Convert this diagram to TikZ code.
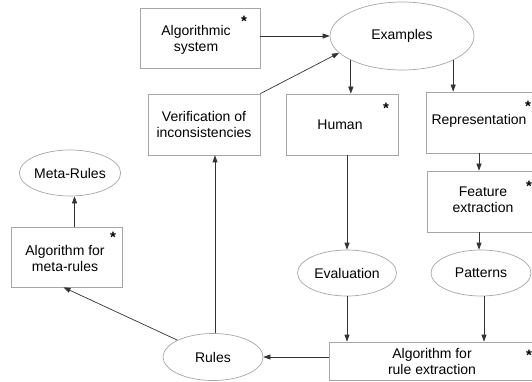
\documentclass[tikz,border=0pt]{standalone}
\usepackage{fontspec}
\setmainfont{Liberation Sans}
\usetikzlibrary{shapes.geometric,arrows.meta,calc}
\begin{document}
\begin{tikzpicture}[x=1pt,y=-1pt,
  every node/.style={font=\fontsize{14}{16}\selectfont},
  box/.style={draw=black!35, line width=0.7pt, rectangle, inner sep=0pt},
  oval/.style={draw=black!35, line width=0.7pt, ellipse, inner sep=0pt, minimum width=100pt, minimum height=46pt},
  txt/.style={align=center, inner sep=0pt},
  starmark/.style={inner sep=0pt, anchor=north, font=\fontsize{15}{16}\selectfont\bfseries},
  arr/.style={draw=black!80, line width=0.7pt, -{Triangle[length=7pt,width=5pt]}}
]
\useasboundingbox (0,0) rectangle (532,382);
\clip (0,0) rectangle (532,382);
% boxes
\node[box, minimum width=120pt, minimum height=60pt] (alg) at (200,38) {};
\node[txt] (algt) at (196,40) {Algorithmic\\system};
\node[oval, minimum width=144pt, minimum height=68pt] (ex) at (402,36) {Examples};
\node[box, minimum width=112pt, minimum height=61pt, align=center] (ver) at (204,124.5) {Verification of\\inconsistencies};
\node[box, minimum width=112pt, minimum height=61pt] (hum) at (342,124.5) {};
\node[txt] (humt) at (340,125) {Human};
\node[box, minimum width=119pt, minimum height=61pt] (rep) at (485.5,122.5) {};
\node[txt] (rept) at (479,121) {Representation};
\node[box, minimum width=118pt, minimum height=61pt] (feat) at (486,201.5) {};
\node[txt] (featt) at (483,200) {Feature\\extraction};
\node[oval] (pat) at (481,273) {Patterns};
\node[oval, minimum width=99pt] (ev) at (347,273) {Evaluation};
\node[box, minimum width=216pt, minimum height=38pt] (algo) at (437,361) {};
\node[txt] (algot) at (432,361) {Algorithm for\\rule extraction};
\node[oval, minimum height=47pt] (rules) at (213,357) {Rules};
\node[box, minimum width=111pt, minimum height=60pt] (ma) at (66.5,257) {};
\node[txt] (mat) at (65,258) {Algorithm for\\meta-rules};
\node[oval, minimum width=99pt] (meta) at (70,173) {Meta-Rules};
% stars
\node[starmark] (s1) at (244,16) {*};
\node[starmark] (s2) at (386,103) {*};
\node[starmark] (s3) at (528,101) {*};
\node[starmark] (s4) at (529,181) {*};
\node[starmark] (s5) at (529,350) {*};
\node[starmark] (s6) at (113,232) {*};
% connectors
\draw[arr] (alg.east |- ex.west) -- (ex.west);
\draw[arr] (ver.north east) -- (ex.195);
\draw[arr] (ex.south west) -- (ex.south west |- hum.north);
\draw[arr] (ex.south east) -- (ex.south east |- rep.north);
\draw[arr] (ev |- hum.south) -- (ev.north);
\draw[arr] (rept |- rep.south) -- (rept |- feat.north);
\draw[arr] (rept |- feat.south) -- (rept |- pat.north);
\draw[arr] ($(pat.south)+(3,0)$) -- ($(pat.south |- algo.north)+(3,0)$);
\draw[arr] (ev.south) -- (ev.south |- algo.north);
\draw[arr] (algo.west |- rules.east) -- (rules.east);
\draw[arr] ($(rules.north)+(2,0)$) -- ($(rules.north |- ver.south)+(2,0)$);
\draw[arr] (rules.north west) -- ($(ma.south)+(-3,0)$);
\draw[arr] ($(ma.north)+(8,0)$) -- ($(ma.north |- meta.south)+(8,0)$);
\end{tikzpicture}
\end{document}
